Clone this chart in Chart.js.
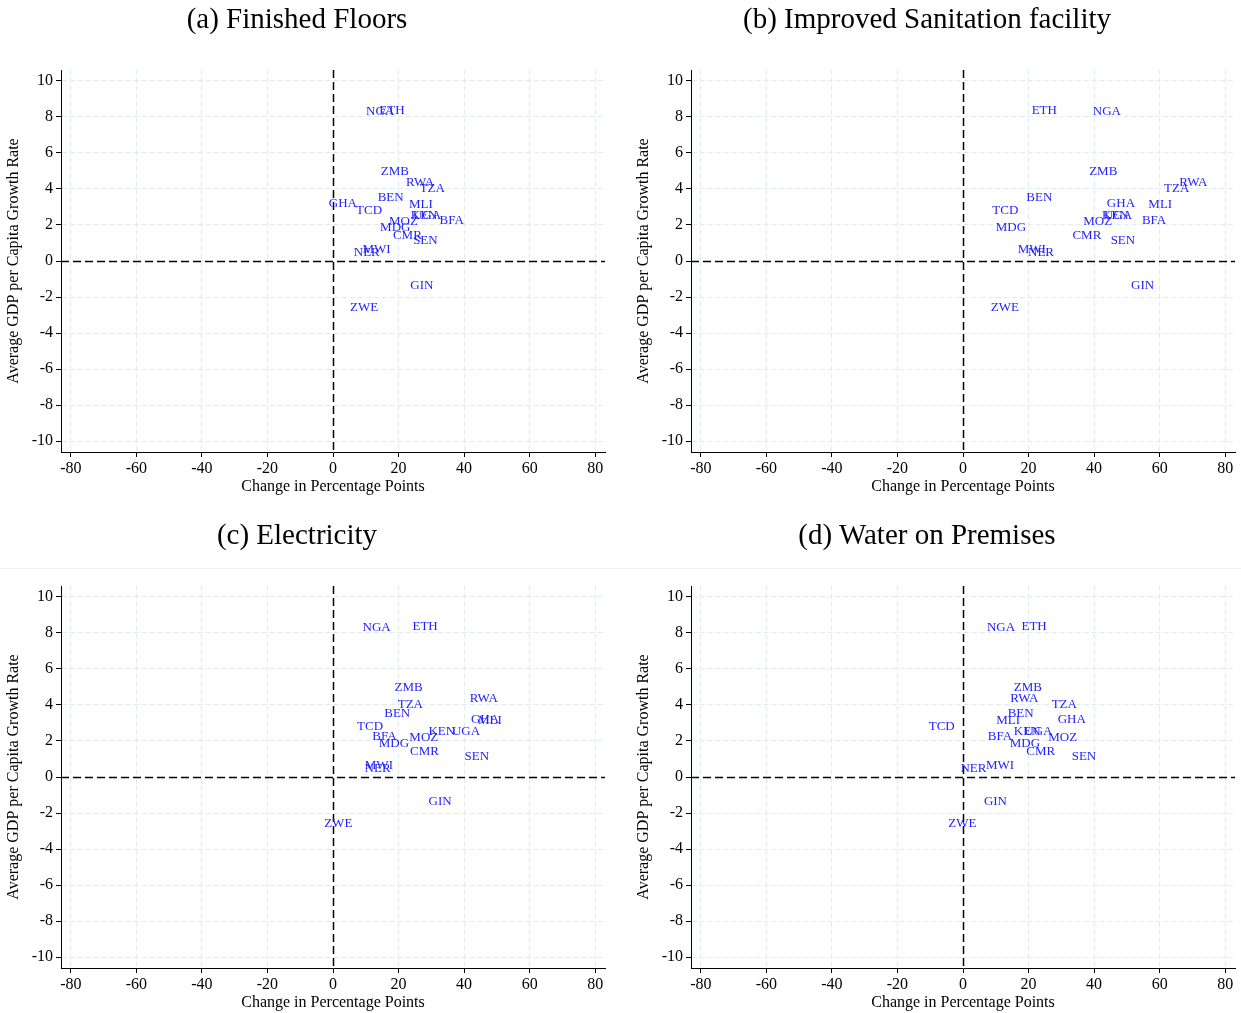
<!DOCTYPE html>
<html>
<head>
<meta charset="utf-8">
<title>GDP growth and changes in household conditions</title>
<script src="https://cdn.jsdelivr.net/npm/chart.js@4.4.1/dist/chart.umd.min.js"></script>
<style>
  body { margin: 0; background: #fff; width: 1241px; height: 1013px; position: relative; overflow: hidden;
         font-family: "Liberation Serif", "Times New Roman", serif; }
  .panel { position: absolute; width: 611px; height: 497px; }
  .panel canvas { position: absolute; left: 0; top: 0; }
  .ptitle { position: absolute; top: 0; left: 0; width: 594px; text-align: center;
            font-size: 29px; line-height: 36px; color: #000; }
  .sep { position: absolute; left: 0; top: 568px; width: 1241px; height: 1px; background: #efefef; }
</style>
</head>
<body>
<div class="sep"></div>
<div class="panel" style="left:0;top:0"><canvas id="cA" width="611" height="497"></canvas><div class="ptitle">(a) Finished Floors</div></div>
<div class="panel" style="left:630px;top:0"><canvas id="cB" width="611" height="497"></canvas><div class="ptitle">(b) Improved Sanitation facility</div></div>
<div class="panel" style="left:0;top:516px"><canvas id="cC" width="611" height="497"></canvas><div class="ptitle">(c) Electricity</div></div>
<div class="panel" style="left:630px;top:516px"><canvas id="cD" width="611" height="497"></canvas><div class="ptitle">(d) Water on Premises</div></div>
<script>
// Countries and their average GDP per capita growth rate (same for every panel)
const countries = ["BEN","BFA","CMR","ETH","GHA","GIN","KEN","MDG","MLI","MOZ",
                   "MWI","NER","NGA","RWA","SEN","TCD","TZA","UGA","ZMB","ZWE"];
const growth    = [3.52, 2.27, 1.42, 8.35, 3.20, -1.36, 2.52, 1.86, 3.15, 2.21,
                   0.61, 0.46, 8.30, 4.33, 1.12, 2.78, 4.02, 2.50, 4.97, -2.60];

// Change in percentage points, one list per household condition
const floorsChange      = [17.6, 36.2, 22.7, 18.0,  3.0, 27.1, 27.8, 19.0, 26.8, 21.5,
                           13.3, 10.3, 14.4, 26.6, 28.2, 11.0, 30.3, 28.7, 18.9,  9.5];
const sanitationChange  = [23.3, 58.3, 37.8, 24.8, 48.2, 54.8, 46.5, 14.6, 60.2, 41.1,
                           21.0, 23.8, 43.9, 70.3, 48.8, 12.9, 65.2, 47.3, 42.8, 12.8];
const electricityChange = [19.6, 15.7, 27.9, 28.1, 46.4, 32.7, 33.2, 18.6, 47.9, 27.7,
                           14.0, 13.6, 13.3, 46.0, 43.9, 11.3, 23.6, 40.6, 23.1,  1.6];
const waterChange       = [17.6, 11.3, 23.7, 21.7, 33.2,  9.9, 19.6, 18.9, 13.8, 30.4,
                           11.3,  3.2, 11.6, 18.7, 36.9, -6.5, 30.9, 23.0, 19.8, -0.2];

// Axis ticks
const xTicks = [-80, -60, -40, -20, 0, 20, 40, 60, 80];
const yTicks = [-10, -8, -6, -4, -2, 0, 2, 4, 6, 8, 10];

const FONT = "'Liberation Serif', 'Times New Roman', serif";
const GRID = "#e1ecee";

// Dashed reference lines through zero on both axes
const zeroLines = {
  id: "zeroLines",
  beforeDatasetsDraw(chart) {
    const { ctx, chartArea: a, scales: { x, y } } = chart;
    const px = Math.round(x.getPixelForValue(0)) + 0.5;
    const py = Math.round(y.getPixelForValue(0)) + 0.5;
    ctx.save();
    ctx.strokeStyle = "#000";
    ctx.lineWidth = 1.5;
    ctx.setLineDash([8, 4]);
    ctx.beginPath();
    ctx.moveTo(a.left, py); ctx.lineTo(a.right, py);
    ctx.moveTo(px, a.top); ctx.lineTo(px, a.bottom);
    ctx.stroke();
    ctx.restore();
  }
};

// Country codes written at each point position
const countryLabels = {
  id: "countryLabels",
  afterDatasetsDraw(chart) {
    const { ctx } = chart;
    const meta = chart.getDatasetMeta(0);
    ctx.save();
    ctx.fillStyle = "#1e1eff";
    ctx.font = "13px " + FONT;
    ctx.textAlign = "center";
    ctx.textBaseline = "middle";
    meta.data.forEach((pt, i) => ctx.fillText(countries[i], pt.x, pt.y));
    ctx.restore();
  }
};

function makePanel(id, xValues) {
  const points = countries.map((c, i) => ({ x: xValues[i], y: growth[i] }));
  return new Chart(document.getElementById(id), {
    type: "scatter",
    data: { datasets: [{ data: points, pointRadius: 0, pointHoverRadius: 0 }] },
    options: {
      responsive: false,
      animation: false,
      layout: { padding: { top: 70, right: 6, left: 0, bottom: 0 } },
      plugins: { legend: { display: false }, tooltip: { enabled: false } },
      scales: {
        x: {
          type: "linear", min: -83, max: 83,
          afterBuildTicks: s => { s.ticks = xTicks.map(v => ({ value: v })); },
          afterFit: s => { s.height = 45; },
          grid: {
            color: c => (c.tick && c.tick.value === 0) ? "rgba(0,0,0,0)" : GRID,
            lineWidth: 1, tickLength: 5, tickColor: "#000", tickWidth: 1
          },
          border: { display: true, color: "#000", width: 1, dash: [5, 3] },
          ticks: { color: "#000", font: { family: FONT, size: 16 }, padding: 2, maxRotation: 0, autoSkip: false },
          title: { display: true, text: "Change in Percentage Points", color: "#000",
                   font: { family: FONT, size: 16 }, padding: { top: 0, bottom: 1 } }
        },
        y: {
          type: "linear", min: -10.6, max: 10.6,
          afterBuildTicks: s => { s.ticks = yTicks.map(v => ({ value: v })); },
          afterFit: s => { s.width = 61; },
          grid: {
            color: c => (c.tick && c.tick.value === 0) ? "rgba(0,0,0,0)" : GRID,
            lineWidth: 1, tickLength: 5, tickColor: "#000", tickWidth: 1
          },
          border: { display: true, color: "#000", width: 1, dash: [5, 3] },
          ticks: { color: "#000", font: { family: FONT, size: 16 }, padding: 3, autoSkip: false },
          title: { display: true, text: "Average GDP per Capita Growth Rate", color: "#000",
                   font: { family: FONT, size: 16 }, padding: { top: 4, bottom: 0 } }
        }
      }
    },
    plugins: [zeroLines, countryLabels]
  });
}

makePanel("cA", floorsChange);
makePanel("cB", sanitationChange);
makePanel("cC", electricityChange);
makePanel("cD", waterChange);
</script>
</body>
</html>
